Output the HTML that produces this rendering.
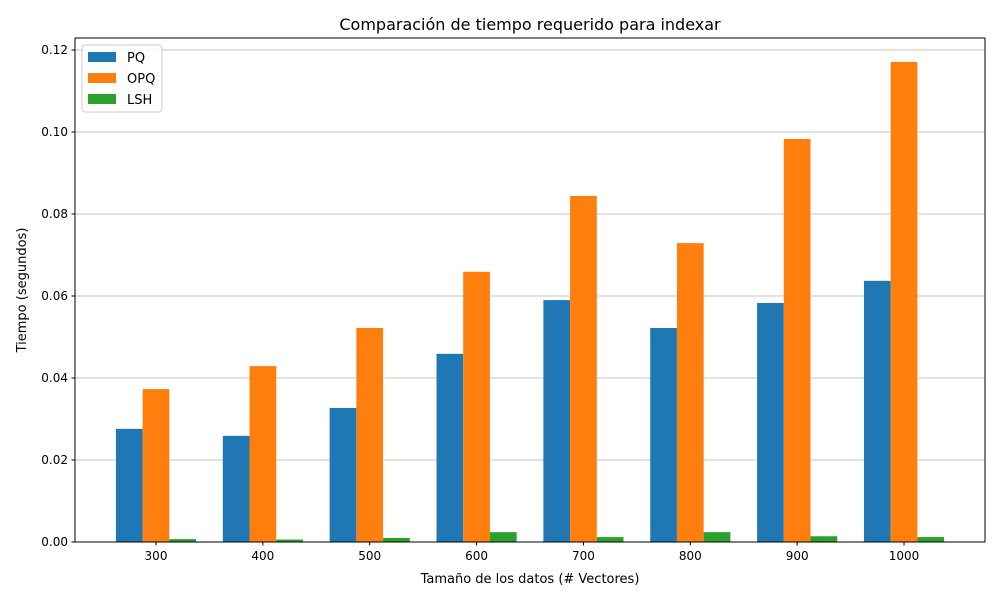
<!DOCTYPE html>
<html><head><meta charset="utf-8"><style>
body{margin:0;background:#fff;font-family:"Liberation Sans","DejaVu Sans",sans-serif}
svg text{font-family:"DejaVu Sans","Liberation Sans",sans-serif}
</style></head><body>
<svg id="c" width="1000" height="600" xmlns="http://www.w3.org/2000/svg">
<rect width="1000" height="600" fill="#fff"/>
<text x="530" y="30" font-size="16" text-anchor="middle">Comparación de tiempo requerido para indexar</text>
<g id="grid"></g><g id="bars"></g><g id="axes"></g>
<text x="530" y="583" font-size="13" text-anchor="middle">Tamaño de los datos (# Vectores)</text>
<text x="0" y="0" font-size="13" text-anchor="middle" transform="translate(26,290) rotate(-90)">Tiempo (segundos)</text>
<g id="legend"></g>
</svg>
<script>
const categories=["300","400","500","600","700","800","900","1000"];
const pq=[0.0276,0.0259,0.0327,0.0459,0.0590,0.0522,0.0583,0.0637];
const opq=[0.0373,0.0429,0.0522,0.0659,0.0844,0.0729,0.0983,0.1171];
const lsh=[0.0007,0.0006,0.0010,0.0024,0.0012,0.0024,0.0014,0.0012];
const yTicks=[0,0.02,0.04,0.06,0.08,0.10,0.12];
const yTickLabels=["0.00","0.02","0.04","0.06","0.08","0.10","0.12"];
const seriesNames=["PQ","OPQ","LSH"];
const colors=["#1f77b4","#ff7f0e","#2ca02c"];
const L=75,R=985,T=38,B=542;
const y=v=>B-v*4100;
const step=106.86, x0=156;
const x=i=>x0+i*step;
const bw=step*0.25;
const NS="http://www.w3.org/2000/svg";
function mk(tag,attrs,parent){const e=document.createElementNS(NS,tag);for(const k in attrs)e.setAttribute(k,attrs[k]);parent.appendChild(e);return e;}
const grid=document.getElementById('grid'),bars=document.getElementById('bars'),axes=document.getElementById('axes'),legend=document.getElementById('legend');
yTicks.forEach((t,i)=>{
 const g=mk('line',{x1:L,x2:R,y1:y(t),y2:y(t),stroke:'#b0b0b0','stroke-width':0.8},grid);
 
 
 const tk=mk('line',{x1:L-3.5,x2:L,y1:y(t),y2:y(t),stroke:'#000'},axes);
 
 
 const tx=mk('text',{x:L-7,y:y(t)+4,'font-size':12,'text-anchor':'end'},axes);
 tx.textContent=yTickLabels[i];
 
 
});
const data=[pq,opq,lsh];
data.forEach((s,si)=>{s.forEach((v,i)=>{
 const r=mk('rect',{x:x(i)-1.5*bw+si*bw,y:y(v),width:bw,height:B-y(v),fill:colors[si]},bars);
 
 
});});
categories.forEach((c,i)=>{
 const tk=mk('line',{x1:x(i),x2:x(i),y1:B,y2:B+3.5,stroke:'#000'},axes);
 
 
 const tx=mk('text',{x:x(i),y:B+18,'font-size':12,'text-anchor':'middle'},axes);
 tx.textContent=c;
 
 
});
const fr=mk('rect',{x:L,y:T,width:R-L,height:B-T,fill:'none',stroke:'#000','stroke-width':1},axes);


const lb=mk('rect',{x:82,y:45,width:80,height:67,fill:'#fff','fill-opacity':0.8,stroke:'#ccc',rx:3},legend);


seriesNames.forEach((n,i)=>{
 const yy=52+i*21;
 const sw=mk('rect',{x:88,y:yy,width:28,height:10,fill:colors[i]},legend);
 
 
 const t=mk('text',{x:127,y:yy+10,'font-size':13},legend);
 t.textContent=n;
 
 
});
</script>
</body></html>
